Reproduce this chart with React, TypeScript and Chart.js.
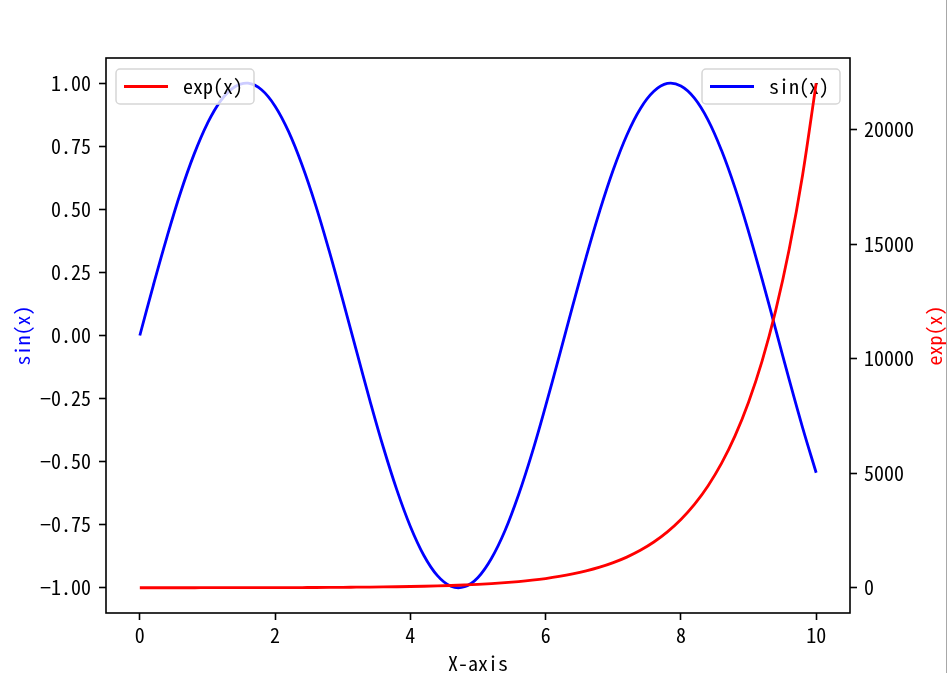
import React, { useEffect, useRef } from "react";
import { Chart, registerables } from "chart.js";

Chart.register(...registerables);

const xValues = [
  0, 0.2, 0.4, 0.6, 0.8, 1, 1.2, 1.4, 1.6, 1.8, 2, 2.2, 2.4, 2.6, 2.8, 3, 3.2, 3.4, 3.6, 3.8, 4,
  4.2, 4.4, 4.6, 4.8, 5, 5.2, 5.4, 5.6, 5.8, 6, 6.2, 6.4, 6.6, 6.8, 7, 7.2, 7.4, 7.6, 7.8, 8,
  8.2, 8.4, 8.6, 8.8, 9, 9.2, 9.4, 9.6, 9.8, 10,
];
const sinValues = [
  0, 0.199, 0.389, 0.565, 0.717, 0.841, 0.932, 0.985, 1.0, 0.974, 0.909, 0.808, 0.675, 0.516,
  0.335, 0.141, -0.058, -0.256, -0.443, -0.612, -0.757, -0.872, -0.952, -0.994, -0.996, -0.959,
  -0.883, -0.773, -0.631, -0.465, -0.279, -0.083, 0.117, 0.312, 0.494, 0.657, 0.794, 0.899,
  0.968, 0.999, 0.989, 0.941, 0.855, 0.734, 0.585, 0.412, 0.223, 0.025, -0.174, -0.366, -0.544,
];
const expValues = [
  1, 1, 1, 2, 2, 3, 3, 4, 5, 6, 7, 9, 11, 13, 16, 20, 25, 30, 37, 45, 55, 67, 81, 99, 122, 148,
  181, 221, 270, 330, 403, 493, 602, 735, 898, 1097, 1339, 1636, 1998, 2441, 2981, 3641, 4447,
  5432, 6634, 8103, 9897, 12088, 14765, 18034, 22026,
];
const xTicks = [0, 2, 4, 6, 8, 10];
const sinTicks = [-1, -0.75, -0.5, -0.25, 0, 0.25, 0.5, 0.75, 1];
const expTicks = [0, 5000, 10000, 15000, 20000];
const sinLabel = "sin(x)";
const expLabel = "exp(x)";
const xLabel = "X-axis";

const FONT = '"Noto Sans Mono CJK SC", "DejaVu Sans Mono", monospace';
const FS = 20;

function fmtMinus(s: string) {
  return s.replace("-", "\u2212");
}

function drawLegend(ctx: CanvasRenderingContext2D, x: number, y: number, w: number, h: number, color: string, text: string) {
  const r = 4;
  ctx.save();
  ctx.beginPath();
  ctx.moveTo(x + r, y);
  ctx.lineTo(x + w - r, y);
  ctx.arcTo(x + w, y, x + w, y + r, r);
  ctx.lineTo(x + w, y + h - r);
  ctx.arcTo(x + w, y + h, x + w - r, y + h, r);
  ctx.lineTo(x + r, y + h);
  ctx.arcTo(x, y + h, x, y + h - r, r);
  ctx.lineTo(x, y + r);
  ctx.arcTo(x, y, x + r, y, r);
  ctx.closePath();
  ctx.fillStyle = "rgba(255,255,255,0.8)";
  ctx.fill();
  ctx.strokeStyle = "#d6d6d6";
  ctx.lineWidth = 1.5;
  ctx.stroke();
  const cy = y + h / 2;
  ctx.beginPath();
  ctx.moveTo(x + 8, cy);
  ctx.lineTo(x + 52, cy);
  ctx.strokeStyle = color;
  ctx.lineWidth = 2.8;
  ctx.stroke();
  ctx.fillStyle = "#000";
  ctx.font = `${FS}px ${FONT}`;
  ctx.textAlign = "left";
  ctx.textBaseline = "middle";
  ctx.fillText(text, x + 67, cy);
  ctx.restore();
}

const decorPlugin = {
  id: "decor",
  afterDatasetDraw(chart: any, args: any) {
    // the sin(x) legend belongs to the first axes: drawn before the twin-axes exp(x) line
    if (args.index === 1) {
      const a = chart.chartArea;
      drawLegend(chart.ctx, a.right - 10 - 138, a.top + 11, 138, 35, "blue", sinLabel);
    }
  },
  afterDraw(chart: any) {
    const { ctx, chartArea: a } = chart;
    ctx.save();
    ctx.strokeStyle = "#000";
    ctx.lineWidth = 1.6;
    ctx.strokeRect(a.left, a.top, a.right - a.left, a.bottom - a.top);

    ctx.font = `${FS}px ${FONT}`;
    ctx.textAlign = "center";
    ctx.textBaseline = "middle";
    ctx.fillStyle = "#000";
    ctx.fillText(xLabel, (a.left + a.right) / 2, a.bottom + 50);

    const cy = (a.top + a.bottom) / 2;
    ctx.save();
    ctx.translate(22, cy);
    ctx.rotate(-Math.PI / 2);
    ctx.fillStyle = "blue";
    ctx.fillText(sinLabel, 0, 0);
    ctx.restore();

    ctx.save();
    ctx.translate(a.right + 84, cy);
    ctx.rotate(-Math.PI / 2);
    ctx.fillStyle = "red";
    ctx.fillText(expLabel, 0, 0);
    ctx.restore();
    ctx.restore();

    drawLegend(ctx, a.left + 10, a.top + 11, 138, 35, "red", expLabel);
  },
};

export default function App() {
  const ref = useRef<HTMLCanvasElement | null>(null);

  useEffect(() => {
    if (!ref.current) return;
    const tickFont = { family: FONT, size: FS };
    const axisGrid = {
      display: true,
      drawOnChartArea: false,
      drawTicks: true,
      tickLength: 7,
      tickWidth: 1.6,
      tickColor: "#000",
    };
    const chart = new Chart(ref.current, {
      type: "line",
      data: {
        datasets: [
          {
            label: expLabel,
            data: xValues.map((x, i) => ({ x, y: expValues[i] })),
            borderColor: "red",
            backgroundColor: "red",
            borderWidth: 2.8,
            pointRadius: 0,
            cubicInterpolationMode: "monotone",
            yAxisID: "y2",
          },
          {
            label: sinLabel,
            data: xValues.map((x, i) => ({ x, y: sinValues[i] })),
            borderColor: "blue",
            backgroundColor: "blue",
            borderWidth: 2.8,
            pointRadius: 0,
            tension: 0.4,
            yAxisID: "y",
          },
        ],
      },
      options: {
        responsive: false,
        animation: false,
        devicePixelRatio: 1,
        layout: { padding: { top: 58, left: 0, right: 0, bottom: 0 } },
        plugins: { legend: { display: false }, tooltip: { enabled: false } },
        scales: {
          x: {
            type: "linear",
            position: "bottom",
            min: -0.5,
            max: 10.5,
            grid: axisGrid,
            border: { display: false },
            afterBuildTicks: (s: any) => {
              s.ticks = xTicks.map((v) => ({ value: v }));
            },
            afterFit: (s: any) => {
              s.height = 60;
            },
            ticks: {
              font: tickFont,
              color: "#000",
              padding: 3,
              maxRotation: 0,
              callback: (v: any) => String(v),
            },
          },
          y: {
            type: "linear",
            position: "left",
            min: -1.1,
            max: 1.1,
            grid: axisGrid,
            border: { display: false },
            afterBuildTicks: (s: any) => {
              s.ticks = sinTicks.map((v) => ({ value: v }));
            },
            afterFit: (s: any) => {
              s.width = 106;
            },
            ticks: {
              font: tickFont,
              color: "#000",
              padding: 8,
              callback: (v: any) => fmtMinus(Number(v).toFixed(2)),
            },
          },
          y2: {
            type: "linear",
            position: "right",
            min: -1101,
            max: 23127,
            grid: axisGrid,
            border: { display: false },
            afterBuildTicks: (s: any) => {
              s.ticks = expTicks.map((v) => ({ value: v }));
            },
            afterFit: (s: any) => {
              s.width = 97;
            },
            ticks: {
              font: tickFont,
              color: "#000",
              padding: 7,
              callback: (v: any) => String(v),
            },
          },
        },
      },
      plugins: [decorPlugin],
    } as any);
    return () => chart.destroy();
  }, []);

  return (
    <div style={{ position: "absolute", left: 0, top: 0, width: 947, height: 673, background: "#fff" }}>
      <canvas ref={ref} width={947} height={673} style={{ display: "block" }} />
      <div style={{ position: "absolute", left: 946, top: 0, width: 1, height: 673, background: "#a8a8a8" }} />
    </div>
  );
}
